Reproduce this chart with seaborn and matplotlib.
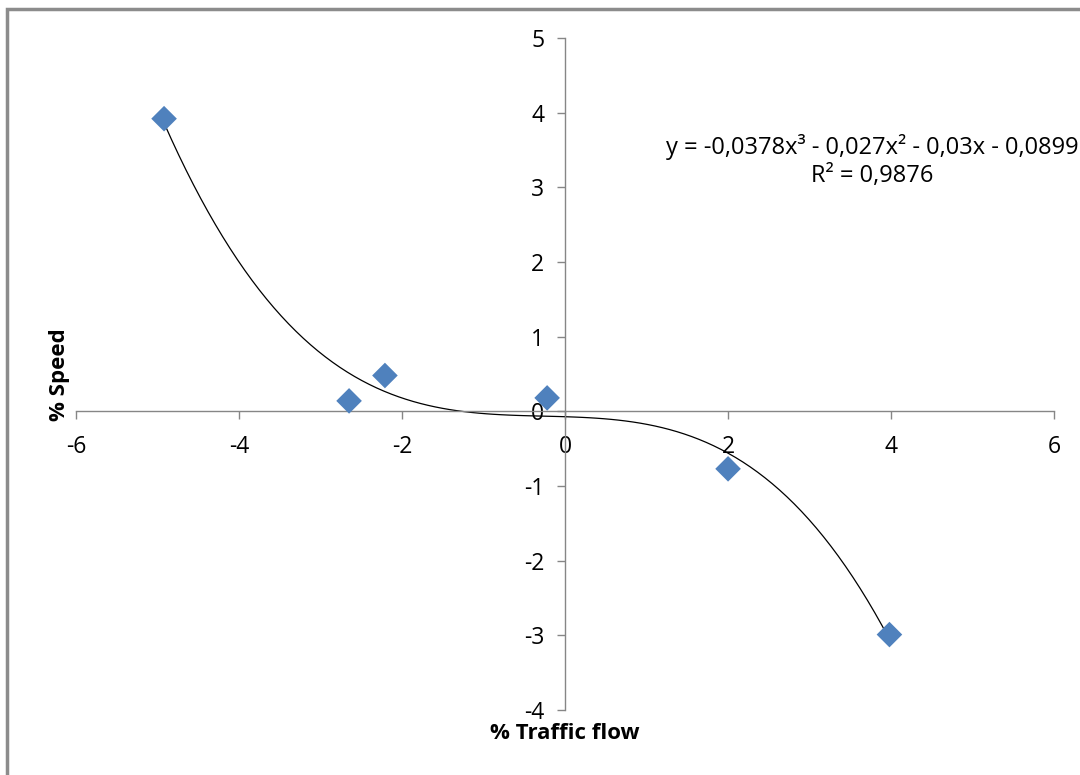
import numpy as np
import pandas as pd
import matplotlib
matplotlib.use("Agg")
import matplotlib.pyplot as plt
import seaborn as sns
from matplotlib.patches import Rectangle

# data
traffic_flow = [-4.92, -2.65, -2.21, -0.22, 2.0, 3.98]
speed = [3.92, 0.14, 0.48, 0.18, -0.77, -2.99]
x_ticks = [-6, -4, -2, 0, 2, 4, 6]
y_ticks = [-4, -3, -2, -1, 0, 1, 2, 3, 4, 5]
equation = "y = -0,0378x³ - 0,027x² - 0,03x - 0,0899\nR² = 0,9876"

df = pd.DataFrame({"flow": traffic_flow, "speed": speed})

sns.set_theme(style="white")
plt.rcParams["font.family"] = ["Open Sans", "DejaVu Sans"]

fig = plt.figure(figsize=(10.8, 7.75), dpi=100)
ax = fig.add_axes([0.0704, 0.0839, 0.9056, 0.8670])

# trendline (cubic fit) + points
sns.regplot(data=df, x="flow", y="speed", order=3, ci=None, scatter=False,
            line_kws={"color": "black", "lw": 0.9}, ax=ax)
sns.scatterplot(data=df, x="flow", y="speed", marker="D", s=170,
                color="#4F81BD", edgecolor="none", zorder=3, ax=ax)

ax.set_xlim(-6, 6)
ax.set_ylim(-4, 5)
ax.set_xticks(x_ticks)
ax.set_yticks(y_ticks)
ax.set_xticklabels([str(v) for v in x_ticks])
ax.set_yticklabels([str(v) for v in y_ticks])

# axes cross at origin like Excel
for side in ["top", "right"]:
    ax.spines[side].set_visible(False)
ax.spines["left"].set_position(("data", 0))
ax.spines["bottom"].set_position(("data", 0))
for side in ["left", "bottom"]:
    ax.spines[side].set_color("#868686")
    ax.spines[side].set_linewidth(1)
ax.tick_params(axis="both", direction="out", length=6, width=1,
               color="#868686", labelsize=16.5, labelcolor="#000000")
ax.tick_params(axis="x", bottom=True, pad=11)
ax.tick_params(axis="y", left=True, pad=9)
ax.set_facecolor("none")

ax.set_xlabel("")
ax.set_ylabel("")
fig.text(0.523, 0.054, "% Traffic flow", ha="center", va="center",
         fontsize=16, fontweight="bold", color="black")
fig.text(0.055, 0.516, "% Speed", ha="center", va="center", rotation=90,
         fontsize=16, fontweight="bold", color="black")

ax.text(3.77, 3.35, equation, ha="center", va="center", fontsize=17,
        linespacing=1.2, color="black", clip_on=False)

# chart frame (partially visible in the crop)
fig.patches.append(Rectangle((7 / 1080, -0.1), 1.2, 1 - 9 / 775 + 0.1,
                             transform=fig.transFigure, fill=False,
                             edgecolor="#8c8c8c", lw=2.5))

fig.savefig("out.png", dpi=100)
